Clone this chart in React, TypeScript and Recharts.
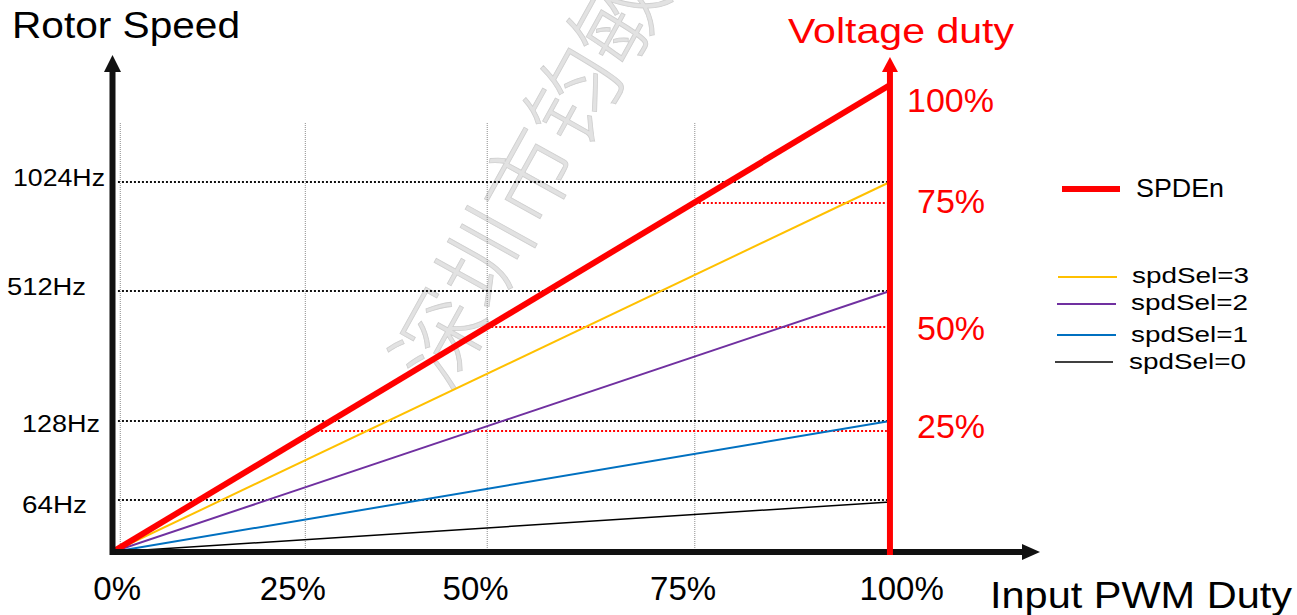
import { LineChart, Line, XAxis, YAxis, ReferenceLine } from "recharts";

const FONT = "'Liberation Sans', Arial, sans-serif";

// input PWM duty (%) at the two ends of every line
const duty = [0, 100];
// rotor speed, in drawing units above the origin (the Hz axis is not linear)
const spdEn = [0, 467];
const spdSel3 = [0, 370];
const spdSel2 = [0, 261];
const spdSel1 = [0, 131];
const spdSel0 = [0, 50];

const hzTicks = [52, 131, 261, 370];
const hzLabels = ["64Hz", "128Hz", "512Hz", "1024Hz"];

const voltTicks = [121, 225, 349, 467];
const voltLabels = ["25%", "50%", "75%", "100%"];

const xTickPos = [0.6, 23.2, 46.7, 73.4, 101.5];
const xLabels = ["0%", "25%", "50%", "75%", "100%"];

const vGrid = [1, 24.8, 48.2, 74.9];
const redDotStart = [25.8, 48.2, 74.9];

const series = [
  { key: "spdSel0", name: "spdSel=0", color: "#000000", width: 1.5 },
  { key: "spdSel1", name: "spdSel=1", color: "#0070C0", width: 2 },
  { key: "spdSel2", name: "spdSel=2", color: "#7030A0", width: 2 },
  { key: "spdSel3", name: "spdSel=3", color: "#FFC000", width: 2 },
  { key: "spdEn", name: "SPDEn", color: "#FF0000", width: 6 },
];

// axis extents
const X_END = 119.3;
const Y_TOP = 497;
const RED_TOP = 495;
const GRID_TOP = 430;

// label layout
const hzLabelX = [22, 22, 7, 13];
const hzLabelW = [65, 78, 79, 92];
const hzLabelDy = [13, 11, 4, 4];
const voltLabelX = [917, 917, 917, 907];
const voltLabelDy = [7, 13, 10, 27];

const legendRows = [
  { name: "SPDEn", lineY: 189, x1: 1062, x2: 1120, textY: 197, size: 26, w: 88 },
  { name: "spdSel=3", lineY: 277, x1: 1058, x2: 1117, textY: 283, size: 22, w: 117 },
  { name: "spdSel=2", lineY: 304, x1: 1057, x2: 1116, textY: 310, size: 22, w: 117 },
  { name: "spdSel=1", lineY: 335, x1: 1057, x2: 1116, textY: 342, size: 22, w: 117 },
  { name: "spdSel=0", lineY: 362, x1: 1055, x2: 1113, textY: 369, size: 22, w: 117 },
];

function arrowShape(color: string, width: number, head: number, halfW: number) {
  return (p: any) => {
    const { x1, y1, x2, y2 } = p;
    const dx = x2 - x1;
    const dy = y2 - y1;
    const len = Math.hypot(dx, dy) || 1;
    const ux = dx / len;
    const uy = dy / len;
    const bx = x2 - ux * head;
    const by = y2 - uy * head;
    const pts = `${x2},${y2} ${bx - uy * halfW},${by + ux * halfW} ${bx + uy * halfW},${by - ux * halfW}`;
    return (
      <g>
        <line x1={x1} y1={y1} x2={bx + ux} y2={by + uy} stroke={color} strokeWidth={width} />
        <polygon points={pts} fill={color} />
      </g>
    );
  };
}

const XTick = (p: any) => {
  const i = xTickPos.indexOf(p.payload.value);
  return (
    <text x={p.x} y={600} textAnchor="middle" fontSize={33} fill="#000" fontFamily={FONT}>
      {xLabels[i]}
    </text>
  );
};

const HzTick = (p: any) => {
  const i = hzTicks.indexOf(p.payload.value);
  return (
    <text
      x={hzLabelX[i]}
      y={p.y + hzLabelDy[i]}
      fontSize={23}
      fill="#000"
      fontFamily={FONT}
      textLength={hzLabelW[i]}
      lengthAdjust="spacingAndGlyphs"
    >
      {hzLabels[i]}
    </text>
  );
};

const VoltTick = (p: any) => {
  const i = voltTicks.indexOf(p.payload.value);
  return (
    <text x={voltLabelX[i]} y={p.y + voltLabelDy[i]} fontSize={34} fill="#FF0000" fontFamily={FONT}>
      {voltLabels[i]}
    </text>
  );
};

export default function App() {
  const rows = duty.map((d, i) => ({
    duty: d,
    spdEn: spdEn[i],
    spdSel3: spdSel3[i],
    spdSel2: spdSel2[i],
    spdSel1: spdSel1[i],
    spdSel0: spdSel0[i],
  }));

  return (
    <div style={{ position: "absolute", left: 0, top: 0, width: 1297, height: 615, background: "#fff" }}>
      <svg width={1297} height={615} style={{ position: "absolute", left: 0, top: 0 }} fontFamily={FONT}>
        <text
          x={412}
          y={375}
          transform="rotate(-61 412 375)"
          fontSize={92}
          fill="#e2e2e2"
          stroke="#cfcfcf"
          strokeWidth={0.8}
          fontFamily="'Noto Sans CJK SC', sans-serif"
          fontWeight={300}
          dominantBaseline="central"
        >
          深圳市钧敏
        </text>
        <text x={12} y={38} fontSize={37} fill="#000" textLength={228} lengthAdjust="spacingAndGlyphs">
          Rotor Speed
        </text>
        <text x={788} y={43} fontSize={35} fill="#FF0000" textLength={226} lengthAdjust="spacingAndGlyphs">
          Voltage duty
        </text>
        <text x={990} y={608} fontSize={37} fill="#000" textLength={302} lengthAdjust="spacingAndGlyphs">
          Input PWM Duty
        </text>
        {legendRows.map((r) => {
          const s = series.find((q) => q.name === r.name)!;
          return (
            <g key={r.name}>
              <line x1={r.x1} x2={r.x2} y1={r.lineY} y2={r.lineY} stroke={s.color} strokeWidth={s.width} />
              <text x={r.x1 + 74} y={r.textY} fontSize={r.size} fill="#000" textLength={r.w} lengthAdjust="spacingAndGlyphs">
                {r.name}
              </text>
            </g>
          );
        })}
      </svg>
      <div style={{ position: "absolute", left: 0, top: 0 }}>
        <LineChart width={1297} height={615} data={rows} margin={{ top: 55, right: 0, bottom: 0, left: 0 }}>
          <XAxis
            dataKey="duty"
            type="number"
            domain={[0, X_END]}
            allowDataOverflow
            ticks={xTickPos}
            interval={0}
            height={63}
            axisLine={false}
            tickLine={false}
            tick={(p: any) => <XTick {...p} />}
          />
          <YAxis
            yAxisId="hz"
            type="number"
            domain={[0, Y_TOP]}
            allowDataOverflow
            ticks={hzTicks}
            interval={0}
            width={112.5}
            axisLine={false}
            tickLine={false}
            tick={(p: any) => <HzTick {...p} />}
          />
          <YAxis
            yAxisId="volt"
            orientation="right"
            type="number"
            domain={[0, Y_TOP]}
            allowDataOverflow
            ticks={voltTicks}
            interval={0}
            width={257}
            axisLine={false}
            tickLine={false}
            tick={(p: any) => <VoltTick {...p} />}
          />

          {vGrid.map((x) => (
            <ReferenceLine
              key={"v" + x}
              yAxisId="hz"
              segment={[{ x, y: 0 }, { x, y: GRID_TOP }]}
              stroke="#8c8c8c"
              strokeWidth={1}
              strokeDasharray="1 1"
              ifOverflow="visible"
            />
          ))}
          {hzTicks.map((y) => (
            <ReferenceLine
              key={"h" + y}
              yAxisId="hz"
              segment={[{ x: 0.7, y }, { x: 100, y }]}
              stroke="#111"
              strokeWidth={2}
              strokeDasharray="2 2"
              ifOverflow="visible"
            />
          ))}
          {redDotStart.map((x, i) => (
            <ReferenceLine
              key={"r" + i}
              yAxisId="hz"
              segment={[{ x, y: voltTicks[i] }, { x: 99.6, y: voltTicks[i] }]}
              stroke="#FF0000"
              strokeWidth={2}
              strokeDasharray="2 2"
              ifOverflow="visible"
            />
          ))}

          {series.map((s) => (
            <Line
              key={s.key}
              yAxisId="hz"
              dataKey={s.key}
              name={s.name}
              type="linear"
              stroke={s.color}
              strokeWidth={s.width}
              dot={false}
              activeDot={false}
              isAnimationActive={false}
            />
          ))}

          <ReferenceLine
            yAxisId="hz"
            segment={[{ x: -0.3, y: 0 }, { x: X_END, y: 0 }]}
            ifOverflow="visible"
            shape={arrowShape("#111", 6, 18, 8)}
          />
          <ReferenceLine
            yAxisId="hz"
            segment={[{ x: 0, y: -3 }, { x: 0, y: Y_TOP }]}
            ifOverflow="visible"
            shape={arrowShape("#111", 6, 17, 8.5)}
          />
          <ReferenceLine
            yAxisId="hz"
            segment={[{ x: 100, y: -3 }, { x: 100, y: RED_TOP }]}
            ifOverflow="visible"
            shape={arrowShape("#FF0000", 6, 15, 8)}
          />
        </LineChart>
      </div>
    </div>
  );
}
